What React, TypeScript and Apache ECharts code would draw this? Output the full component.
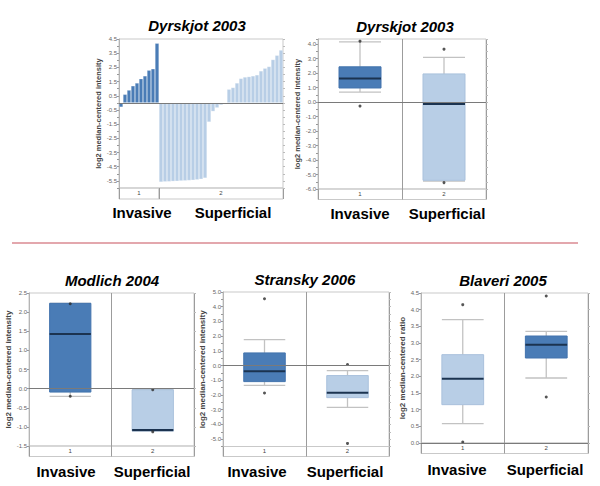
import { useEffect, useRef } from 'react';
import * as echarts from 'echarts';

// ---------------- data ----------------
const groupNames = ['Invasive', 'Superficial'];
const bandCategories = ['1', '2'];
const yNameIntensity = 'log2 median-centered intensity';
const yNameRatio = 'log2 median-centered ratio';

// Dyrskjot 2003 – per-sample bars
const dyrskjotInvasiveBars = [-0.3, 0.6, 0.9, 1.2, 1.4, 1.7, 1.9, 2.3, 2.4, 4.2];
const dyrskjotSuperficialBars = [
  -5.58, -5.56, -5.55, -5.53, -5.52, -5.5, -5.49, -5.47, -5.45, -5.42, -5.38, -5.3,
  -1.35, -0.6, -0.35, -0.15, 0.03,
  0.96, 1.08, 1.4, 1.72, 1.82, 1.85, 1.9, 1.97, 2.25, 2.44, 2.56, 3.05, 3.35, 3.72,
];

// box stats: [lower whisker, Q1, median, Q3, upper whisker]
const dyrskjotBox = [
  [0.69, 0.97, 1.62, 2.43, 4.15],
  [-5.45, -5.4, -0.14, 1.94, 3.08],
];
const dyrskjotPoints = [[0, 4.2], [0, -0.28], [1, 3.65], [1, -5.56]];

const modlichBox = [
  [-0.2, -0.09, 1.43, 2.23, 2.23],
  [-1.12, -1.11, -1.08, -0.03, -0.03],
];
const modlichPoints = [[0, 2.22], [0, -0.2], [1, -0.03], [1, -1.13]];

const stranskyBox = [
  [-1.34, -1.09, -0.39, 0.86, 1.77],
  [-2.84, -2.18, -1.84, -0.68, -0.34],
];
const stranskyPoints = [[0, 4.54], [0, -1.86], [1, 0.07], [1, -5.29]];

const blaveriBox = [
  [0.58, 1.15, 1.93, 2.65, 3.7],
  [1.95, 2.55, 2.95, 3.21, 3.35],
];
const blaveriPoints = [[0, 4.15], [0, 0.03], [1, 4.41], [1, 1.38]];

// ---------------- styles ----------------
const DARK = '#4a7cb6';
const DARK_EDGE = '#4273ad';
const LIGHT = '#b8cee6';
const LIGHT_EDGE = '#a9c1dc';
const MEDIAN = '#1b3350';
const WHISKER = '#c2c2c2';
const BORDER = '#c9c9c9';
const DIVIDER = '#9c9c9c';
const ZERO = '#7a7a7a';
const TICK_TEXT = '#666';
const FONT = '"Liberation Sans", Arial, sans-serif';

const isMult = (v: number, step: number, base: number) => {
  const r = (v - base) / step;
  return Math.abs(r - Math.round(r)) < 1e-6;
};

function buildOption() {
  const grid: any[] = [];
  const xAxis: any[] = [];
  const yAxis: any[] = [];
  const series: any[] = [];
  const graphic: any[] = [];

  const addTitle = (text: string, x: number, y: number) => {
    graphic.push({
      type: 'text', x, y, silent: true,
      style: { text, fill: '#000', font: `italic bold 15px ${FONT}`, align: 'center', verticalAlign: 'middle' },
    });
  };
  const addGroupLabels = (pos: number[][]) => {
    groupNames.forEach((g, i) => {
      graphic.push({
        type: 'text', x: pos[i][0], y: pos[i][1], silent: true,
        style: { text: g, fill: '#000', font: `bold 15px ${FONT}`, align: 'center', verticalAlign: 'middle' },
      });
    });
  };

  const addYAxes = (gi: number, c: any) => {
    const common = { type: 'value', gridIndex: gi, min: c.yMin, max: c.yMax, interval: c.yStep, splitLine: { show: false } };
    yAxis.push({
      ...common,
      position: 'left',
      name: c.yName,
      nameLocation: 'middle',
      nameGap: c.nameGap,
      nameRotate: 90,
      nameTextStyle: { fontSize: c.nameSize, fontWeight: 'bold', color: '#444', fontFamily: FONT },
      axisLine: { show: true, lineStyle: { color: '#b5b5b5' } },
      axisTick: { show: true, length: 2, lineStyle: { color: '#999' } },
      axisLabel: {
        fontSize: 6, color: TICK_TEXT, margin: 2, fontFamily: FONT,
        formatter: (v: number) => (isMult(v, c.labelStep, c.labelBase) ? v.toFixed(1) : ''),
      },
    });
    yAxis.push({
      ...common,
      position: 'right',
      axisLine: { show: false },
      axisTick: { show: true, length: 2, lineStyle: { color: '#bbb' } },
      axisLabel: { show: false },
    });
    return yAxis.length - 2;
  };

  const addBand = (left: number, top: number, width: number, height: number, cats: string[]) => {
    grid.push({ left, top, width, height, show: true, borderColor: BORDER, borderWidth: 1 });
    const gi = grid.length - 1;
    xAxis.push({
      type: 'category', gridIndex: gi, data: cats,
      axisLine: { show: false }, axisTick: { show: false },
      splitLine: { show: true, lineStyle: { color: DIVIDER } },
      axisLabel: { fontSize: 6, color: '#444', fontFamily: FONT, margin: -(height / 2 + 3.5) },
    });
    yAxis.push({ type: 'value', gridIndex: gi, show: false, min: 0, max: 1 });
  };

  const zeroLine = {
    silent: true, symbol: ['none', 'none'], label: { show: false },
    lineStyle: { color: ZERO, width: 1, type: 'solid' },
    emphasis: { disabled: true },
    data: [{ yAxis: 0 }],
  };

  // ----- Panel 1: Dyrskjot bars -----
  {
    const L = 119, T = 39, W = 164, H = 149, B = 11;
    grid.push({ left: L, top: T, width: W, height: H, show: true, borderColor: BORDER, borderWidth: 1 });
    const gi = grid.length - 1;
    const all = [...dyrskjotInvasiveBars, ...dyrskjotSuperficialBars];
    xAxis.push({
      type: 'category', gridIndex: gi, data: all.map((_, i) => String(i + 1)),
      show: false,
    });
    const xi = xAxis.length - 1;
    const yi = addYAxes(gi, {
      yMin: -6, yMax: 4.5, yStep: 0.5, labelStep: 1, labelBase: 0.5,
      yName: yNameIntensity, nameGap: 12, nameSize: 7.5,
    });
    series.push({
      type: 'bar', xAxisIndex: xi, yAxisIndex: yi, barCategoryGap: '0%',
      data: all.map((v, i) => ({
        value: v,
        itemStyle: {
          color: i < dyrskjotInvasiveBars.length ? DARK : LIGHT,
          borderColor: 'rgba(255,255,255,0.45)',
          borderWidth: 0.5,
        },
      })),
      markLine: zeroLine,
    });
    const split = L + (W * dyrskjotInvasiveBars.length) / all.length;
    addBand(L, T + H, split - L, B, [bandCategories[0]]);
    addBand(split, T + H, L + W - split, B, [bandCategories[1]]);
    addTitle('Dyrskjot 2003', 197, 25);
    addGroupLabels([[142, 212], [233, 212]]);
  }

  const renderBox = (_params: any, api: any) => {
    const idx = api.value(0);
    const lo = api.coord([idx, api.value(1)]);
    const q1 = api.coord([idx, api.value(2)]);
    const med = api.coord([idx, api.value(3)]);
    const q3 = api.coord([idx, api.value(4)]);
    const hi = api.coord([idx, api.value(5)]);
    const half = api.size([1, 0])[0] * 0.25;
    const cx = q1[0];
    const fill = api.visual('color');
    const edge = fill === DARK ? DARK_EDGE : LIGHT_EDGE;
    const w = { stroke: WHISKER, lineWidth: 1.3 };
    return {
      type: 'group',
      children: [
        { type: 'line', shape: { x1: cx, y1: hi[1], x2: cx, y2: q3[1] }, style: w },
        { type: 'line', shape: { x1: cx, y1: q1[1], x2: cx, y2: lo[1] }, style: w },
        { type: 'line', shape: { x1: cx - half, y1: hi[1], x2: cx + half, y2: hi[1] }, style: w },
        { type: 'line', shape: { x1: cx - half, y1: lo[1], x2: cx + half, y2: lo[1] }, style: w },
        {
          type: 'rect',
          shape: { x: cx - half, y: q3[1], width: 2 * half, height: Math.max(q1[1] - q3[1], 1) },
          style: { fill, stroke: edge, lineWidth: 1 },
        },
        { type: 'line', shape: { x1: cx - half, y1: med[1], x2: cx + half, y2: med[1] }, style: { stroke: MEDIAN, lineWidth: 2 } },
      ],
    };
  };

  const addBoxPanel = (c: any) => {
    const { left: L, top: T, width: W, height: H, band: B } = c.box;
    grid.push({ left: L, top: T, width: W, height: H, show: true, borderColor: BORDER, borderWidth: 1 });
    const gi = grid.length - 1;
    xAxis.push({
      type: 'category', gridIndex: gi, data: groupNames,
      axisLine: { show: false }, axisTick: { show: false }, axisLabel: { show: false },
      splitLine: { show: true, lineStyle: { color: DIVIDER } },
    });
    const xi = xAxis.length - 1;
    const yi = addYAxes(gi, c);
    series.push({
      type: 'custom', xAxisIndex: xi, yAxisIndex: yi, z: 2,
      renderItem: renderBox,
      encode: { x: 0, y: [1, 2, 3, 4, 5] },
      data: c.stats.map((s: number[], i: number) => ({ value: [i, ...s], itemStyle: { color: c.fills[i] } })),
    });
    series.push({
      type: 'scatter', xAxisIndex: xi, yAxisIndex: yi, z: 3,
      symbolSize: 3, itemStyle: { color: '#2a2a2a' },
      data: c.points,
      markLine: zeroLine,
    });
    addBand(L, T + H, W, B, bandCategories);
    addTitle(c.title, c.titlePos[0], c.titlePos[1]);
    addGroupLabels(c.labelPos);
  };

  addBoxPanel({
    title: 'Dyrskjot 2003', stats: dyrskjotBox, points: dyrskjotPoints, fills: [DARK, LIGHT],
    yMin: -6, yMax: 4.35, yStep: 0.5, labelStep: 1, labelBase: 0,
    yName: yNameIntensity, nameGap: 10, nameSize: 7.5,
    box: { left: 318, top: 39, width: 168, height: 150, band: 10.5 },
    titlePos: [405, 26], labelPos: [[360, 213], [447, 213]],
  });
  addBoxPanel({
    title: 'Modlich 2004', stats: modlichBox, points: modlichPoints, fills: [DARK, LIGHT],
    yMin: -1.5, yMax: 2.5, yStep: 0.5, labelStep: 0.5, labelBase: 0,
    yName: yNameIntensity, nameGap: 12.5, nameSize: 8,
    box: { left: 29, top: 293, width: 165, height: 153, band: 10.5 },
    titlePos: [112, 280], labelPos: [[66, 471], [152, 471]],
  });
  addBoxPanel({
    title: 'Stransky 2006', stats: stranskyBox, points: stranskyPoints, fills: [DARK, LIGHT],
    yMin: -5.5, yMax: 5, yStep: 0.5, labelStep: 1, labelBase: 0,
    yName: yNameIntensity, nameGap: 13, nameSize: 8,
    box: { left: 223, top: 292, width: 166, height: 154.5, band: 10 },
    titlePos: [305, 279], labelPos: [[257, 471], [345, 471]],
  });
  addBoxPanel({
    title: 'Blaveri 2005', stats: blaveriBox, points: blaveriPoints, fills: [LIGHT, DARK],
    yMin: 0, yMax: 4.5, yStep: 0.5, labelStep: 0.5, labelBase: 0,
    yName: yNameRatio, nameGap: 13, nameSize: 8,
    box: { left: 421, top: 293, width: 167, height: 150, band: 10.5 },
    titlePos: [503, 280], labelPos: [[457, 469], [545, 469]],
  });

  // red separator line
  graphic.push({
    type: 'line', silent: true,
    shape: { x1: 12, y1: 243, x2: 578, y2: 243 },
    style: { stroke: '#c8505c', lineWidth: 1.2 },
  });

  return {
    animation: false,
    backgroundColor: '#fff',
    grid, xAxis, yAxis, series, graphic,
  };
}

export default function App() {
  const ref = useRef<HTMLDivElement>(null);
  useEffect(() => {
    const chart = echarts.init(ref.current!, null, { renderer: 'svg' });
    chart.setOption(buildOption() as any);
    return () => chart.dispose();
  }, []);
  return (
    <div
      ref={ref}
      style={{ position: 'fixed', left: 0, top: 0, width: 600, height: 486, background: '#fff' }}
    />
  );
}
